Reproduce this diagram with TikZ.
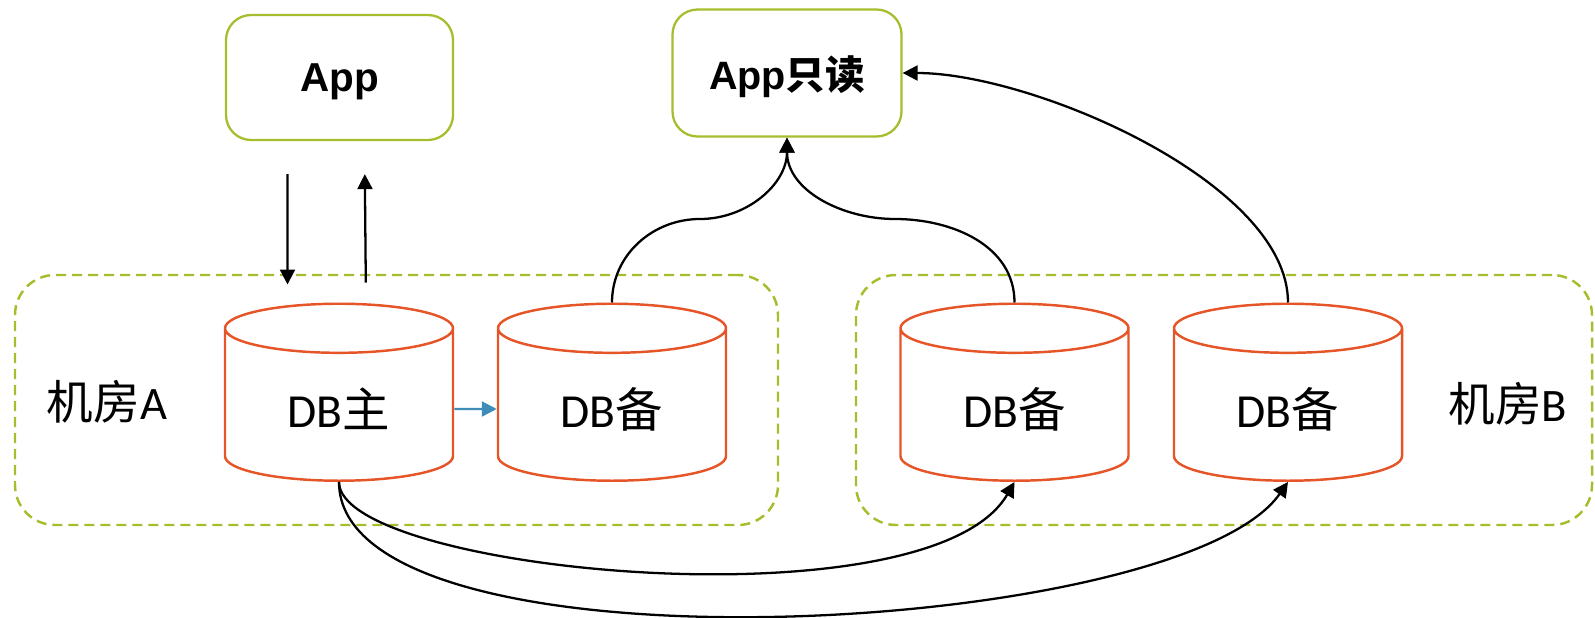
\documentclass[tikz,border=0pt]{standalone}
\usepackage{fontspec}
\setmainfont{Carlito}
\newfontfamily\cjk{Noto Sans CJK SC}
\newfontfamily\appfont{Liberation Sans}
\usetikzlibrary{shapes.geometric,arrows.meta}
\definecolor{leaf}{RGB}{166,190,45}
\definecolor{brick}{RGB}{230,85,40}
\definecolor{sea}{RGB}{64,140,185}

\begin{document}
\begin{tikzpicture}[
    appbox/.style={rectangle, draw=leaf, line width=1.3pt, rounded corners=0.5cm,
        minimum width=4.54cm, minimum height=2.5cm, text depth=0pt,
        font=\bfseries\fontsize{23}{27}\selectfont},
    room/.style={rectangle, draw=leaf, line width=1.4pt, dash pattern=on 0.2cm off 0.12cm,
        rounded corners=0.8cm, minimum height=5cm},
    db/.style={cylinder, shape border rotate=90, aspect=0.43, draw=brick, line width=1.4pt,
        minimum width=4.56cm, minimum height=3.54cm, font=\fontsize{27}{31}\selectfont},
    link/.style={black, line width=1.3pt, -{Triangle[length=0.3cm,width=0.3cm]}}
    ]
    \useasboundingbox (0,0) rectangle (31.9,12.34);

    % Machine rooms
    \node [room, minimum width=15.26cm] (roomA) at (7.93,4.34) {};
    \node [room, minimum width=14.72cm] (roomB) at (24.48,4.34) {};
    \node [font=\fontsize{26.5}{30}\selectfont] (labelA) at (2.14,4.3) {{\cjk 机房}A};
    \node [font=\fontsize{26.5}{30}\selectfont] (labelB) at (30.16,4.26) {{\cjk 机房}B};

    % Apps
    \node [appbox] (app) at (6.79,10.79) {{\appfont App}};
    \node [appbox, minimum width=4.58cm, minimum height=2.54cm,
        font=\bfseries\fontsize{22.5}{27}\selectfont] (ro) at (15.74,10.88)
        {{\appfont App}{\cjk 只读}};

    % Databases
    \node [db] (master) at (6.78,4.16) {DB{\cjk 主}};
    \node [db] (slaveA) at (12.24,4.16) {DB{\cjk 备}};
    \node [db] (slaveB) at (20.29,4.16) {DB{\cjk 备}};
    \node [db] (slaveC) at (25.76,4.16) {DB{\cjk 备}};

    % Bends of the read paths
    \coordinate (bendA) at (14.0,7.96);
    \coordinate (bendB) at (17.9,7.96);

    % App <-> master
    \draw [link, shorten <=0.66cm, shorten >=0.36cm]
        ([xshift=-1.04cm]app.south) -- ([xshift=-1.03cm]master.north);
    \draw [link, shorten <=0.4cm, shorten >=0.66cm]
        ([xshift=0.54cm]master.north) -- ([xshift=0.5cm]app.south);

    % Replication
    \draw [link, sea] (master.east) -- (slaveA.west);
    \draw [link] (master.south) .. controls +(0,-1.8) and +(-1.7,-2.94) .. (slaveB.south);
    \draw [link] (master.south) .. controls +(0,-4.0) and +(-2.18,-3.12) .. (slaveC.south);

    % Reads
    \draw [link] (slaveA.north) to[out=90, in=180] (bendA) to[out=0, in=-90] (ro.south);
    \draw [link] (slaveB.north) to[out=90, in=0] (bendB) to[out=180, in=-90] (ro.south);
    \draw [link] (slaveC.north) .. controls +(0,2.4) and +(2.6,0) .. (ro.east);

\end{tikzpicture}
\end{document}
